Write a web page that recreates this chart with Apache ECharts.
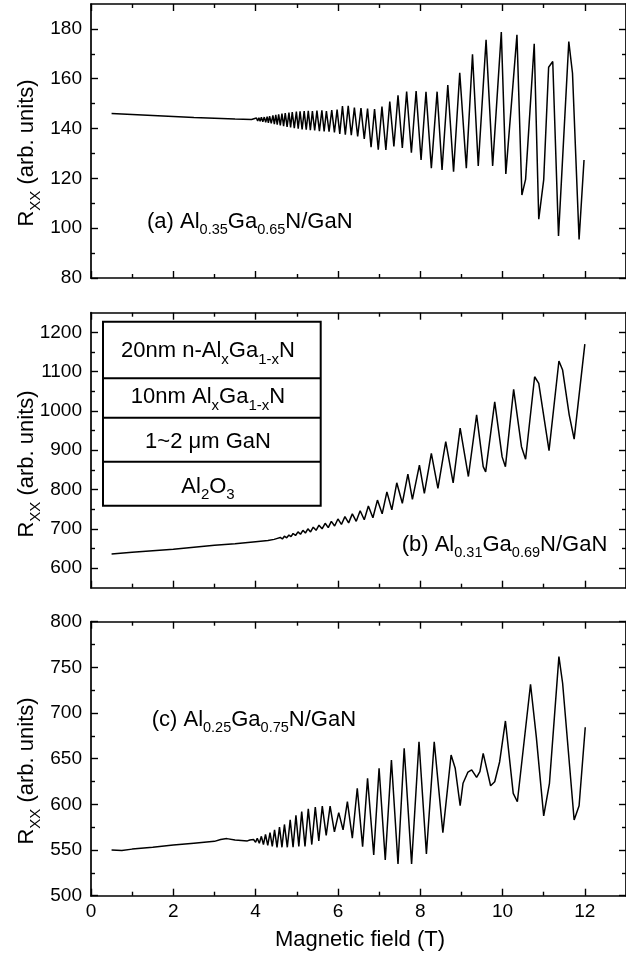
<!DOCTYPE html>
<html><head><meta charset="utf-8">
<script src="https://cdn.jsdelivr.net/npm/echarts@6/dist/echarts.min.js"></script>
<style>html,body{margin:0;padding:0;background:#fff}#c{width:626px;height:958px}</style>
</head><body><div id="c"></div>
<script>
const FONT = '"Liberation Sans", Arial, Helvetica, sans-serif';

// ---------- data: [field (T), Rxx (arb. units)] ----------
const panelA = [
[0.5,146.0],[1.0,145.6],[1.5,145.2],[2.0,144.8],[2.5,144.4],[3.0,144.1],[3.5,143.8],[3.9,143.6],
[4.02,144.2],[4.05,143.0],[4.08,144.3],[4.11,142.9],[4.14,144.5],[4.175,142.7],[4.21,144.6],[4.245,142.5],
[4.28,144.8],[4.31,142.3],[4.34,145.0],[4.38,142.1],[4.42,145.3],[4.455,141.8],[4.49,145.5],[4.525,141.6],
[4.56,145.7],[4.60,141.3],[4.64,146.0],[4.68,141.0],[4.72,146.2],[4.765,140.7],[4.81,146.4],[4.85,140.5],
[4.89,146.6],[4.94,140.2],[4.99,146.8],[5.035,140.0],[5.08,146.9],[5.13,139.7],[5.18,147.0],[5.23,139.5],
[5.28,147.1],[5.33,139.3],[5.38,147.0],[5.435,139.2],[5.49,147.2],[5.55,139.0],[5.61,147.3],[5.665,138.8],
[5.72,147.0],[5.785,138.8],[5.85,147.4],[5.915,138.4],[5.98,147.6],[6.045,137.8],[6.11,149.0],[6.18,137.5],
[6.25,149.1],[6.325,137.3],[6.40,148.4],[6.48,136.8],[6.56,148.2],[6.64,135.8],[6.72,148.0],[6.805,132.5],
[6.89,147.8],[6.98,131.5],[7.07,148.8],[7.165,131.4],[7.26,150.8],[7.36,132.8],[7.46,153.3],[7.565,132.2],
[7.67,154.8],[7.785,130.3],[7.90,155.1],[8.02,127.4],[8.14,154.8],[8.27,124.1],[8.41,154.8],[8.53,123.4],
[8.67,157.5],[8.81,122.7],[8.96,162.4],[9.12,124.1],[9.27,169.8],[9.41,125.0],[9.60,175.6],[9.76,125.0],
[9.97,178.7],[10.08,121.8],[10.35,177.6],[10.47,113.3],[10.56,119.6],[10.77,174.0],[10.88,103.6],[11.0,119.4],
[11.12,164.6],[11.22,166.9],[11.36,96.9],[11.61,174.9],[11.70,162.2],[11.86,95.5],[11.98,127.4]
];
const panelB = [
[0.5,636],[1.0,640],[1.5,644],[2.0,648],[2.5,653],[3.0,658],[3.5,662],[4.0,667],[4.3,670],[4.45,673],
[4.51,675],[4.555,672],[4.60,678],[4.65,674],[4.70,681],[4.755,677],[4.81,684],[4.86,680],[4.91,688],[4.97,683],
[5.03,692],[5.09,686],[5.15,696],[5.21,689],[5.27,700],[5.335,692],[5.40,704],[5.47,696],[5.54,709],[5.615,700],
[5.69,714],[5.765,703],[5.84,719],[5.92,707],[6.00,725],[6.085,711],[6.17,731],[6.26,715],[6.35,738],[6.445,719],
[6.54,746],[6.64,723],[6.74,758],[6.85,728],[6.96,773],[7.075,738],[7.19,794],[7.31,748],[7.43,817],[7.565,765],
[7.70,839],[7.81,775],[7.98,862],[8.10,790],[8.27,892],[8.43,803],[8.62,922],[8.80,817],[8.97,956],[9.17,833],
[9.37,990],[9.53,858],[9.59,845],[9.81,1023],[9.99,883],[10.07,858],[10.27,1055],[10.46,909],[10.56,877],
[10.78,1087],[10.88,1070],[11.13,899],[11.37,1127],[11.46,1104],[11.62,990],[11.74,928],[12.0,1170]
];
const panelC = [
[0.5,550],[0.75,549.5],[1.0,551],[1.5,553],[2.0,555.5],[2.5,557.5],[3.0,559.5],[3.15,561.5],[3.3,562.5],[3.5,561],[3.8,560],
[3.86,561],[3.905,559],[3.95,561.5],[4.0,558.5],[4.04,563],[4.09,557.5],[4.14,565],[4.19,556],[4.24,567],[4.295,555],
[4.35,569],[4.405,554],[4.46,572],[4.52,553],[4.58,575],[4.64,553],[4.70,578],[4.77,553],[4.84,583],[4.91,553],
[4.98,588],[5.05,554],[5.12,592],[5.20,554],[5.28,595],[5.365,556],[5.45,597],[5.535,560],[5.62,598],[5.715,566],
[5.81,598],[5.915,570],[6.02,591],[6.125,572],[6.23,603],[6.35,563],[6.47,617.6],[6.60,553.7],[6.72,628.5],
[6.87,544.6],[7.00,639.5],[7.15,539.1],[7.30,648.6],[7.46,534.7],[7.61,661.4],[7.79,534.7],[7.97,668.6],
[8.15,545.7],[8.34,668.6],[8.55,569.0],[8.75,654.1],[8.85,639.5],[8.97,598.5],[9.04,623.1],[9.16,635.4],
[9.25,637.8],[9.37,629.6],[9.45,635.8],[9.53,655.9],[9.71,620.4],[9.81,624.8],[9.93,646.7],[10.07,691.3],
[10.26,612.1],[10.36,602.9],[10.68,731.5],[10.82,674.1],[11.0,587.3],[11.14,623.1],[11.37,761.7],[11.46,732.6],
[11.74,582.9],[11.86,598.5],[12.01,684.4]
];

// ---------- tick labels ----------
const fieldTicks = [0, 2, 4, 6, 8, 10, 12];
const fieldMinorTicks = [1, 3, 5, 7, 9, 11];
const rxxTicksA = [80, 100, 120, 140, 160, 180];
const rxxMinorA = [90, 110, 130, 150, 170];
const rxxTicksB = [600, 700, 800, 900, 1000, 1100, 1200];
const rxxMinorB = [650, 750, 850, 950, 1050, 1150];
const rxxTicksC = [500, 550, 600, 650, 700, 750, 800];
const rxxMinorC = [525, 575, 625, 675, 725, 775];

// ---------- texts ----------
const panelTags = ['(a)', '(b)', '(c)'];
const alFraction = ['0.35', '0.31', '0.25'];
const gaFraction = ['0.65', '0.69', '0.75'];
const xTitle = 'Magnetic field (T)';
// layer stack: alternating normal / subscript pieces
const layerStack = [
  ['20nm n-Al', 'x', 'Ga', '1-x', 'N'],
  ['10nm Al', 'x', 'Ga', '1-x', 'N'],
  ['1~2 \u03bcm GaN'],
  ['Al', '2', 'O', '3']
];

// ---------- layout ----------
const panels = [
  { data: panelA, yMin: 80,  yMax: 190,  ticks: rxxTicksA, minor: rxxMinorA, top: 4,     height: 274, titleY: 153, tagX: 147,   tagY: 222 },
  { data: panelB, yMin: 550, yMax: 1250, ticks: rxxTicksB, minor: rxxMinorB, top: 312.7, height: 275, titleY: 464, tagX: 401.7, tagY: 545 },
  { data: panelC, yMin: 500, yMax: 800,  ticks: rxxTicksC, minor: rxxMinorC, top: 621.7, height: 274, titleY: 771, tagX: 151.7, tagY: 720 }
];
const GRID_LEFT = 91, GRID_WIDTH = 539.5;

const lineC = { color: '#000', width: 1.7 };
const tickC = { color: '#000', width: 1.4 };
const plain = v => String(v);

const grids = [], xAxes = [], yAxes = [], series = [];
panels.forEach((p, gi) => {
  grids.push({ left: GRID_LEFT, top: p.top, width: GRID_WIDTH, height: p.height, containLabel: false });
  const showX = gi === panels.length - 1;
  const xb = { gridIndex: gi, type: 'value', min: 0, max: 13, splitLine: { show: false } };
  const mk = (pos, major, line, labels) => ({
    ...xb, position: pos,
    axisLine: { show: line, onZero: false, lineStyle: lineC },
    axisTick: { show: true, inside: true, length: major ? 7 : 4, customValues: major ? fieldTicks : fieldMinorTicks, lineStyle: tickC },
    axisLabel: labels ? { show: true, customValues: fieldTicks, formatter: plain, color: '#000', fontSize: 19, fontFamily: FONT, margin: 7 } : { show: false }
  });
  xAxes.push(mk('bottom', true, true, showX), mk('bottom', false, false, false), mk('top', true, true, false), mk('top', false, false, false));
  const yb = { gridIndex: gi, type: 'value', min: p.yMin, max: p.yMax, splitLine: { show: false } };
  const my = (pos, major, line, labels) => ({
    ...yb, position: pos,
    axisLine: { show: line, onZero: false, lineStyle: lineC },
    axisTick: { show: true, inside: true, length: major ? 7 : 4, customValues: major ? p.ticks : p.minor, lineStyle: tickC },
    axisLabel: labels ? { show: true, customValues: p.ticks, formatter: plain, color: '#000', fontSize: 19, fontFamily: FONT, margin: 9 } : { show: false }
  });
  yAxes.push(my('left', true, true, true), my('left', false, false, false), my('right', true, true, false), my('right', false, false, false));
  series.push({
    type: 'line', xAxisIndex: 4 * gi, yAxisIndex: 4 * gi, data: p.data,
    showSymbol: false, symbol: 'none', silent: true, animation: false,
    lineStyle: { color: '#000', width: 1.5 }
  });
});

// rich text helpers
const richStyles = (main, sub, drop) => ({
  m: { fontSize: main, fontFamily: FONT, fill: '#000', color: '#000', lineHeight: main + 2, verticalAlign: 'middle' },
  s: { fontSize: sub, fontFamily: FONT, fill: '#000', color: '#000', lineHeight: sub, padding: [drop, 0, 0, 0], verticalAlign: 'middle' }
});
const richFrom = (pieces) => pieces.map((t, i) => (i % 2 === 0 ? '{m|' : '{s|') + t + '}').join('');

const graphics = [];
panels.forEach((p, gi) => {
  graphics.push({
    type: 'text', x: 27, y: p.titleY, rotation: Math.PI / 2, z: 100,
    style: { text: richFrom(['R', 'XX', ' (arb. units)']), rich: richStyles(22, 15, 18),
      align: 'center', verticalAlign: 'middle', textAlign: 'center', textVerticalAlign: 'middle' }
  });
  graphics.push({
    type: 'text', x: p.tagX, y: p.tagY, z: 100,
    style: { text: richFrom([panelTags[gi] + ' Al', alFraction[gi], 'Ga', gaFraction[gi], 'N/GaN']), rich: richStyles(22, 14.5, 15),
      align: 'left', verticalAlign: 'middle', textAlign: 'left', textVerticalAlign: 'middle' }
  });
});
// inset layer diagram
const box = { x: 103, y: 321.7, w: 217.7, h: 184 };
const dividers = [378.3, 417.7, 461.7];
const rowCenters = [351, 397.3, 441.7, 486.7];
graphics.push({ type: 'rect', z: 90, shape: { x: box.x, y: box.y, width: box.w, height: box.h }, style: { fill: '#fff', stroke: '#000', lineWidth: 2 } });
dividers.forEach(yy => graphics.push({ type: 'line', z: 91, shape: { x1: box.x, y1: yy, x2: box.x + box.w, y2: yy }, style: { stroke: '#000', lineWidth: 2 } }));
layerStack.forEach((pieces, i) => graphics.push({
  type: 'text', x: 208, y: rowCenters[i], z: 100,
  style: { text: richFrom(pieces), rich: richStyles(22, 15, 17), align: 'center', verticalAlign: 'middle', textAlign: 'center', textVerticalAlign: 'middle' }
}));
graphics.push({
  type: 'text', x: 360, y: 940, z: 100,
  style: { text: xTitle, fontSize: 22, fontFamily: FONT, fill: '#000', align: 'center', verticalAlign: 'middle', textAlign: 'center', textVerticalAlign: 'middle' }
});

const chart = echarts.init(document.getElementById('c'), null, { renderer: 'canvas' });
chart.setOption({
  backgroundColor: '#fff',
  animation: false,
  grid: grids, xAxis: xAxes, yAxis: yAxes, series: series,
  graphic: { elements: graphics }
});
</script></body></html>
